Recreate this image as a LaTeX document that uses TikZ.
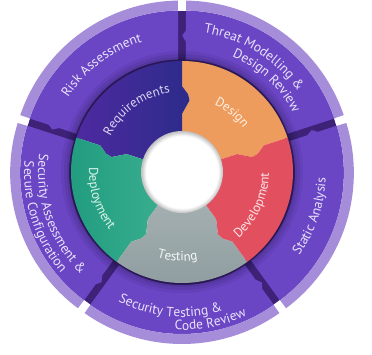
\documentclass[tikz,border=0pt]{standalone}
\usepackage{fontspec}
\setmainfont{PT Sans}
\usetikzlibrary{decorations.text}
\definecolor{seam}{HTML}{3D2278}
\definecolor{outerc}{HTML}{6A45C4}
\definecolor{lav}{HTML}{A68DDA}
\definecolor{reqa}{HTML}{4E2AA0}
\definecolor{reqb}{HTML}{2C2B8A}
\definecolor{desc}{HTML}{EE9C5E}
\definecolor{devc}{HTML}{E2505F}
\definecolor{tsta}{HTML}{A5B0B1}
\definecolor{tstb}{HTML}{8F9DA0}
\definecolor{depa}{HTML}{1F9B7E}
\definecolor{depb}{HTML}{3AAE8F}
\definecolor{otext}{HTML}{EAE3FB}
\definecolor{reqt}{HTML}{DCD3F4}
\definecolor{dest}{HTML}{FFF0E2}
\definecolor{devt}{HTML}{FFE6E8}
\definecolor{tstt}{HTML}{F4F7F7}
\definecolor{dept}{HTML}{DDF4EC}
\pgfdeclareradialshading{holeshade}{\pgfpoint{0bp}{0bp}}{color(0bp)=(white); color(22bp)=(white); color(25bp)=(black!25); color(50bp)=(black!25)}
\newcommand\otfont{\fontsize{13.5pt}{15pt}\selectfont\color{otext}}
\newcommand\oseg[3]{%
\begin{scope}[shift={(#3:3pt)}]
\fill[outerc] ([shift={(#1+90:2pt)}]#1:110pt) -- ([shift={(#1+90:2pt)}]#1:159pt)
  arc[start angle={#1+0.72}, end angle={#2-0.72}, radius=159pt]
  -- ([shift={(#2-90:2pt)}]#2:159pt) -- ([shift={(#2-90:2pt)}]#2:139pt)
  -- ([shift={(#2+90:1.5pt)}]#2:134pt) -- ([shift={(#2-90:2pt)}]#2:128pt)
  -- ([shift={(#2-90:2pt)}]#2:110pt)
  arc[start angle={#2-1.04}, end angle={#1+1.04}, radius=110pt] -- cycle;
\fill[lav] (#1+0.8:159pt) arc[start angle={#1+0.8}, end angle={#2-0.8}, radius=159pt]
  -- (#2-0.8:169pt) arc[start angle={#2-0.8}, end angle={#1+0.8}, radius=169pt] -- cycle;
\end{scope}}
\newcommand\iseg[5]{%
\path[#5] (#1:30pt) -- (#1:58pt) -- ({#1+(#3)*6}:72pt) -- ({#1+(#3)*4.5}:78pt) -- (#1:86pt) -- (#1:111pt)
 arc[start angle=#1, end angle=#2, radius=111pt]
 -- (#2:86pt) -- ({#2+(#4)*4.5}:78pt) -- ({#2+(#4)*6}:72pt) -- (#2:58pt) -- (#2:30pt)
 arc[start angle=#2, end angle=#1, radius=30pt] -- cycle;}
\tikzset{
  otxt/.style={decorate, decoration={text along path, text align=center, text={|\otfont|#1}}},
  itxt/.style 2 args={decorate, decoration={text along path, text align=center, text={|\fontsize{13pt}{15pt}\selectfont\color{#1}|#2}}}
}
\begin{document}
\begin{tikzpicture}
\useasboundingbox (-182pt,-183pt) rectangle (190pt,172pt);
% seams underneath
\fill[seam, even odd rule] (0,0) circle[radius=161pt] circle[radius=108pt];
% outer segments
\oseg{90}{162}{126}
\oseg{18}{90}{54}
\oseg{-54}{18}{-18}
\oseg{-126}{-54}{-90}
\oseg{162}{234}{198}
% shadow of the inner ring
\foreach \r/\o in {121/0.05,118/0.07,115/0.08,113/0.1} {\fill[black,opacity=\o,even odd rule] (0,0) circle[radius=\r pt] circle[radius=110pt];}
% inner ring
\iseg{18}{90}{-1}{-1}{fill=desc}
\iseg{90}{162}{-1}{1}{left color=reqa, right color=reqb}
\iseg{162}{234}{1}{1}{left color=depa, right color=depb}
\iseg{-126}{-54}{1}{-1}{top color=tsta, bottom color=tstb}
\iseg{-54}{18}{-1}{-1}{fill=devc}
% hole
\shade[shading=holeshade] (0,0) circle[radius=41pt];
% outer labels
\begin{scope}[shift={(126:3pt)}]
\path[otxt={Risk Assessment}] (158:133pt) arc[start angle=158, end angle=96, radius=133pt];
\end{scope}
\begin{scope}[shift={(54:3pt)}]
\path[otxt={Threat Modelling {\&}}] (90:138pt) arc[start angle=90, end angle=26, radius=138pt];
\path[otxt={Design Review}] (77:123pt) arc[start angle=77, end angle=17, radius=123pt];
\end{scope}
\begin{scope}[shift={(-18:3pt)}]
\path[otxt={Static Analysis}] (-49:141pt) arc[start angle=-49, end angle=11, radius=141pt];
\end{scope}
\begin{scope}[shift={(-90:3pt)}]
\path[otxt={Security Testing {\&}}] (-127:142pt) arc[start angle=-127, end angle=-63, radius=142pt];
\path[otxt={Code Review}] (-106:155pt) arc[start angle=-106, end angle=-52, radius=155pt];
\end{scope}
\begin{scope}[shift={(198:3pt)}]
\path[otxt={Security Assessment {\&}}] (166:141pt) arc[start angle=166, end angle=232, radius=141pt];
\path[otxt={Secure Configuration}] (168:155pt) arc[start angle=168, end angle=228, radius=155pt];
\end{scope}
% inner labels
\path[itxt={reqt}{Requirements}] (162:80pt) arc[start angle=162, end angle=90, radius=80pt];
\path[itxt={dest}{Design}] (77:75pt) arc[start angle=77, end angle=23, radius=75pt];
\path[itxt={devt}{Development}] (-62:87pt) arc[start angle=-62, end angle=12, radius=87pt];
\path[itxt={tstt}{Testing}] (-120:89pt) arc[start angle=-120, end angle=-66, radius=89pt];
\path[itxt={dept}{Deployment}] (162:93pt) arc[start angle=162, end angle=234, radius=93pt];
\end{tikzpicture}
\end{document}
